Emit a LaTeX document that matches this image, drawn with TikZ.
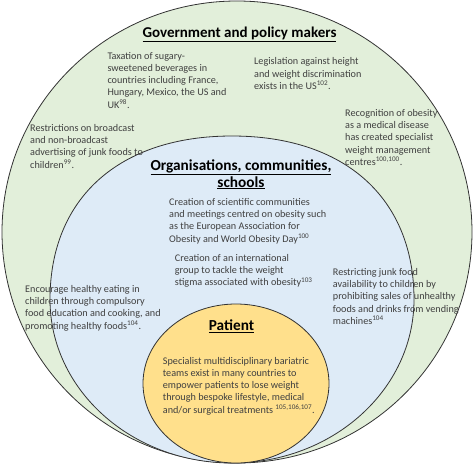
\documentclass[tikz,border=0pt]{standalone}
\usepackage{fontspec}
\setmainfont{Carlito}
\definecolor{ringgreen}{HTML}{E2EFDA}
\definecolor{ringblue}{HTML}{DEEBF7}
\definecolor{coreyellow}{HTML}{FFE08C}
\definecolor{bodygray}{HTML}{404040}
\begin{document}
\begin{tikzpicture}[x=1pt, y=-1pt,
        ring/.style={draw=black!80, line width=0.8pt},
        heading/.style={font=\bfseries\fontsize{15.3}{17}\selectfont, align=center, inner sep=0pt, anchor=base},
        note/.style={font=\fontsize{10.2}{12.2}\selectfont, text=bodygray, align=left, anchor=north west, inner sep=0pt}]
        \useasboundingbox (0,0) rectangle (474,466);
        % the three nested levels
        \filldraw[ring, fill=ringgreen] (237,232) ellipse [x radius=235, y radius=231];
        \filldraw[ring, fill=ringblue] (232,136) .. controls (344.8,136) and (414,198.1) .. (414,299.5)
            .. controls (414,389.8) and (332.5,463) .. (232,463)
            .. controls (131.5,463) and (50,389.8) .. (50,299.5)
            .. controls (50,198.1) and (119.2,136) .. cycle;
        \filldraw[ring, fill=coreyellow] (236,383.5) ellipse [x radius=93, y radius=79.5];
        % government level
        \node[heading, font=\bfseries\fontsize{15}{18}\selectfont] (govt) at (239.5,37) {\underline{Government and policy makers}};
        \node[note] (tax) at (107.3,52) {Taxation of sugary-\\sweetened beverages in\\countries including France,\\Hungary, Mexico, the US and\\UK\textsuperscript{98}.};
        \node[note] (law) at (254,57.7) {Legislation against height\\and weight discrimination\\exists in the US\textsuperscript{102}.};
        \node[note] (disease) at (345,109.3) {Recognition of obesity\\as a medical disease\\has created specialist\\weight management\\centres\textsuperscript{100,100}.};
        \node[note] (advert) at (30,124.3) {Restrictions on broadcast\\and non-broadcast\\advertising of junk foods to\\children\textsuperscript{99}.};
        % organisations level
        \node[heading] (orgs) at (241,187) {\underline{Organisations, communities,}\\\underline{schools}};
        \node[note] (science) at (169,198.3) {Creation of scientific communities\\and meetings centred on obesity such\\as the European Association for\\Obesity and World Obesity Day\textsuperscript{100}};
        \node[note] (stigma) at (174.7,254.3) {Creation of an international\\group to tackle the weight\\stigma associated with obesity\textsuperscript{103}};
        \node[note] (vending) at (332.7,268.3) {Restricting junk food\\availability to children by\\prohibiting sales of unhealthy\\foods and drinks from vending\\machines\textsuperscript{104}};
        \node[note] (school) at (25,285.3) {Encourage healthy eating in\\children through compulsory\\food education and cooking, and\\promoting healthy foods\textsuperscript{104}.};
        % patient level
        \node[heading] (patient) at (231.5,330.7) {\underline{Patient}};
        \node[note] (teams) at (162.7,357) {Specialist multidisciplinary bariatric\\teams exist in many countries to\\empower patients to lose weight\\through bespoke lifestyle, medical\\and/or surgical treatments \textsuperscript{105,106,107}.};
\end{tikzpicture}
\end{document}
